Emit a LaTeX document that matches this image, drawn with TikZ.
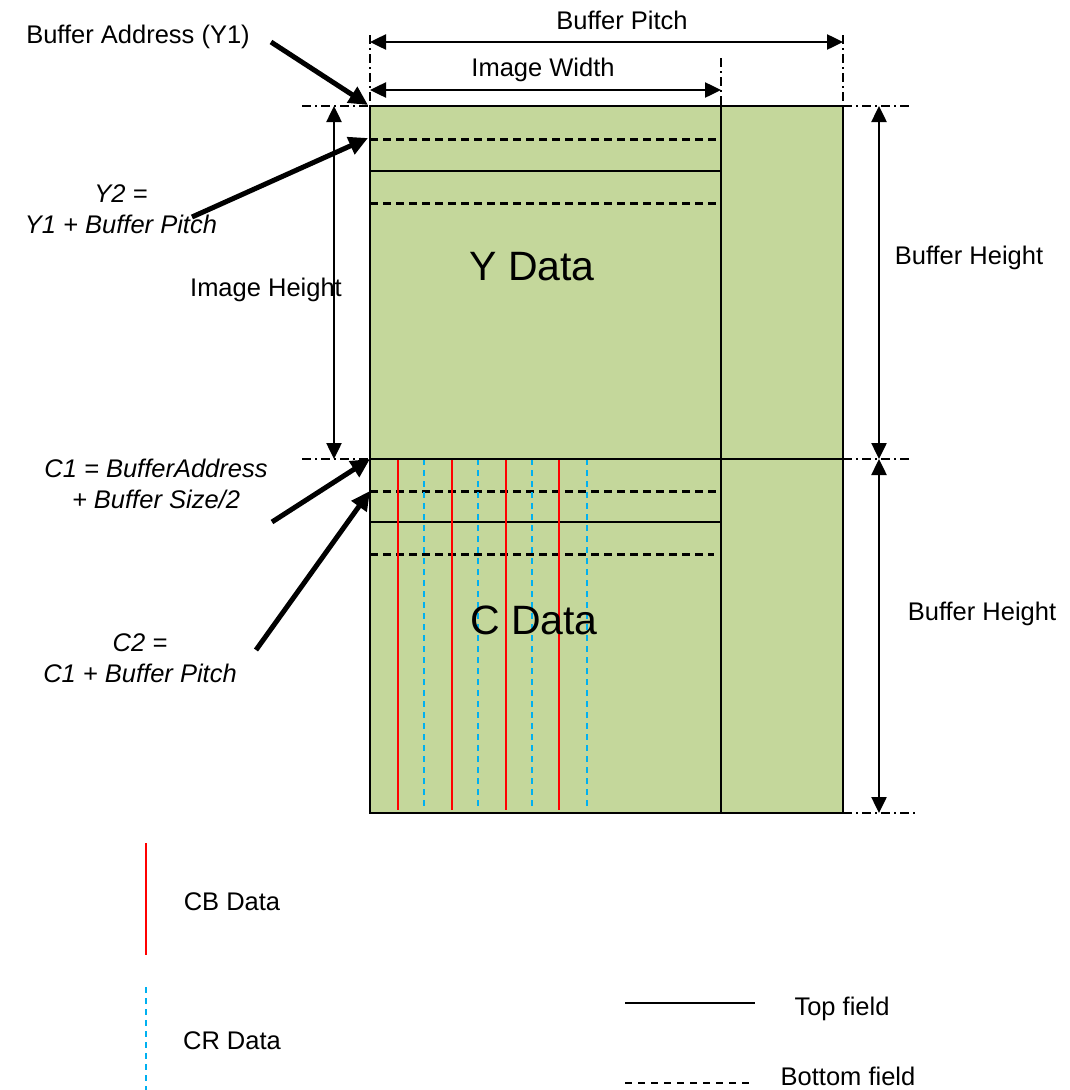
\documentclass[tikz,border=0pt]{standalone}
\usepackage{fontspec}
\setmainfont{Liberation Sans}
\usetikzlibrary{arrows.meta}
\definecolor{fillgreen}{RGB}{196,215,155}
\definecolor{crblue}{RGB}{0,176,240}
\begin{document}
\begin{tikzpicture}[x=1pt,y=-1pt,
  lbl/.style={font=\fontsize{25.5}{30}\selectfont, inner sep=0pt},
  ilbl/.style={font=\fontsize{25.5}{31}\selectfont\itshape, inner sep=0pt, align=center},
  big/.style={font=\fontsize{41}{48}\selectfont, inner sep=0pt},
  dim/.style={line width=2.5pt, {Triangle[length=16pt,width=15pt]}-{Triangle[length=16pt,width=15pt]}},
  ptr/.style={line width=5pt, -{Triangle[length=19pt,width=18pt]}},
  ext/.style={line width=1.8pt, dash pattern=on 9pt off 4pt on 2pt off 4pt},
  outline/.style={line width=2.6pt},
  tf/.style={line width=2.4pt},
  bf/.style={line width=3pt, dash pattern=on 8pt off 5pt},
  cb/.style={line width=2.6pt, red},
  cr/.style={line width=2.6pt, crblue, dash pattern=on 6pt off 5pt},
]
\useasboundingbox (0,0) rectangle (1070,1090);

% main buffer corners
\coordinate (TL) at (370,106);
\coordinate (TR) at (843,106);
\coordinate (ML) at (370,459);
\coordinate (MR) at (843,459);
\coordinate (BL) at (370,813);
\coordinate (BR) at (843,813);
\coordinate (IWt) at (721,106);
\coordinate (IWb) at (721,813);

\fill[fillgreen] (TL) rectangle (BR);

% Y region field lines
\draw[bf] (370,139) -- (721,139);
\draw[tf] (370,171) -- (721,171);
\draw[bf] (370,203) -- (721,203);

% C region field lines
\draw[bf] (370,491) -- (721,491);
\draw[tf] (370,522) -- (721,522);
\draw[bf] (370,554) -- (714,554);

% CB / CR columns
\foreach \x in {398,452,506,559} \draw[cb] (\x,459) -- (\x,810);
\foreach \x in {424,478,532,587} \draw[cr] (\x,459) -- (\x,810);

% outlines
\draw[outline] (TL) rectangle (BR);
\draw[outline] (ML) -- (MR);
\draw[outline] (IWt) -- (IWb);

% extension lines
\draw[ext] (370,35) -- (TL);
\draw[ext] (721,58) -- (IWt);
\draw[ext] (843,35) -- (TR);
\draw[ext] (302,106) -- (TL);
\draw[ext] (TR) -- (912,106);
\draw[ext] (302,459) -- (ML);
\draw[ext] (MR) -- (912,459);
\draw[ext] (BR) -- (915,813);

% dimension arrows
\coordinate (BPl) at (370,42);  \coordinate (BPr) at (843,42);
\coordinate (IWl) at (370,90);  \coordinate (IWr) at (721,90);
\coordinate (IHt) at (334,106); \coordinate (IHb) at (334,459);
\coordinate (BH1) at (879,106); \coordinate (BH2) at (879,459); \coordinate (BH3) at (879,813);
\draw[dim] (BPl) -- (BPr);
\draw[dim] (IWl) -- (IWr);
\draw[dim] (IHt) -- (IHb);
\draw[dim] (BH1) -- (BH2);
\draw[dim] (BH2) -- (BH3);

\node[lbl] (bp) at (622,20) {Buffer Pitch};
\node[lbl] (iw) at (543,70) {Image Width};
\node[lbl] (ih) at (266,290) {Image Height};
\node[lbl] (bh1) at (969,258) {Buffer Height};
\node[lbl] (bh2) at (982,614) {Buffer Height};

% pointer labels
\node[lbl] (ba) at (138,37) {Buffer Address (Y1)};
\node[ilbl] (y2) at (121,209) {Y2 =\\Y1 + Buffer Pitch};
\node[ilbl] (c1) at (156,484) {C1 = BufferAddress\\+ Buffer Size/2};
\node[ilbl] (c2) at (140,658) {C2 =\\C1 + Buffer Pitch};

\coordinate (baS) at (271,42);  \coordinate (baE) at (368,105);
\coordinate (y2S) at (192,217); \coordinate (y2E) at (368,138);
\coordinate (c1S) at (272,522); \coordinate (c1E) at (370,459);
\coordinate (c2S) at (256,650); \coordinate (c2E) at (370,491);
\draw[ptr] (baS) -- (baE);
\draw[ptr] (y2S) -- (y2E);
\draw[ptr] (c1S) -- (c1E);
\draw[ptr] (c2S) -- (c2E);

% data labels
\node[big] (yd) at (532,267) {Y Data};
\node[big] (cd) at (534,620) {C Data};

% legend
\coordinate (cbT) at (146,843); \coordinate (cbB) at (146,955);
\coordinate (crT) at (146,987); \coordinate (crB) at (146,1090);
\draw[cb] (cbT) -- (cbB);
\draw[cr] (crT) -- (crB);
\node[lbl] (cbl) at (232,902) {CB Data};
\node[lbl] (crl) at (232,1041) {CR Data};
\coordinate (tfL) at (625,1003); \coordinate (tfR) at (755,1003);
\coordinate (bfL) at (625,1083); \coordinate (bfR) at (755,1083);
\draw[tf] (tfL) -- (tfR);
\draw[line width=2.2pt, dash pattern=on 7pt off 6pt] (bfL) -- (bfR);
\node[lbl] (tfl) at (842,1009) {Top field};
\node[lbl] (bfl) at (848,1076) {Bottom field};
\end{tikzpicture}
\end{document}
